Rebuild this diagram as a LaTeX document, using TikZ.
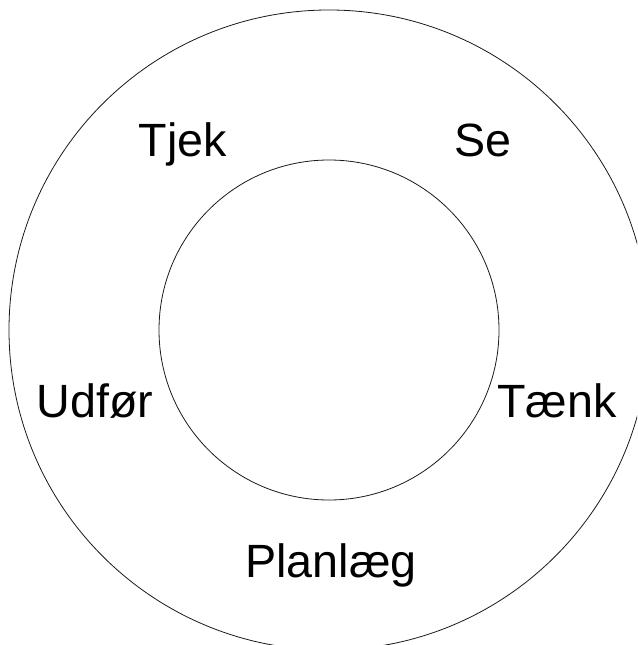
\documentclass[tikz,border=0pt]{standalone}
\usepackage{fontspec}
\setmainfont{Liberation Sans}
\usepackage{tikz}
\definecolor{ringline}{gray}{0.1}

\begin{document}
\begin{tikzpicture}[x=0.75pt, y=-0.75pt,
    word/.style={anchor=base, inner sep=0pt, font=\fontsize{35}{40}\selectfont}]
  \useasboundingbox (0,0) rectangle (637,645);
  \clip (0,0) rectangle (637,645);
  \coordinate (mid) at (329,330);
  \draw[ringline, line width=0.6pt] (mid) circle[radius=320];
  \draw[ringline, line width=0.6pt] (mid) circle[radius=170];
  \node[word] (tjek) at (183,157) {Tjek};
  \node[word] (se) at (483,157) {Se};
  \node[word] (udfor) at (95,417) {Udfør};
  \node[word] (taenk) at (557,417) {Tænk};
  \node[word] (planlaeg) at (331,577) {Planlæg};
\end{tikzpicture}
\end{document}
